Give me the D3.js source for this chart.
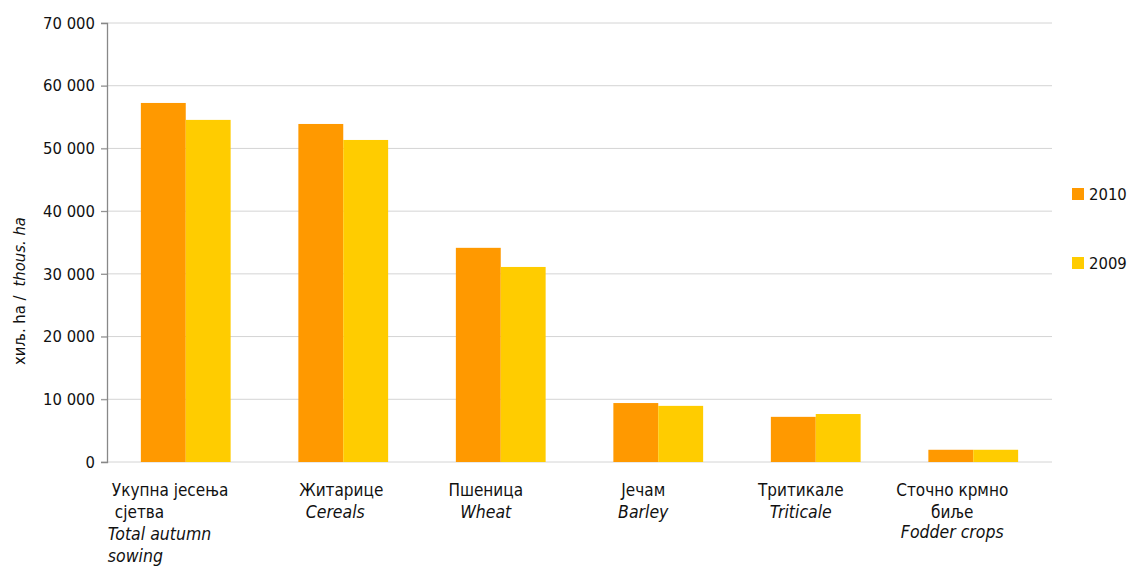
<!DOCTYPE html>
<html>
<head>
<meta charset="utf-8">
<script src="https://cdn.jsdelivr.net/npm/d3@7"></script>
<style>
  body { margin: 0; background: #fff; }
  text { font-family: "DejaVu Sans Condensed", "DejaVu Sans", sans-serif; fill: #111; }
</style>
</head>
<body>
<svg class="chart" width="1130" height="569"></svg>
<script>
const categories = ["total", "cereals", "wheat", "barley", "triticale", "fodder"];
const labelsSr = [["Укупна јесења", "сјетва"], ["Житарице"], ["Пшеница"], ["Јечам"], ["Тритикале"], ["Сточно крмно", "биље"]];
const labelsEn = [["Total autumn", "sowing"], ["Cereals"], ["Wheat"], ["Barley"], ["Triticale"], ["Fodder crops"]];
const years = ["2010", "2009"];
const values2010 = [57250, 53900, 34150, 9400, 7200, 1950];
const values2009 = [54550, 51350, 31100, 8950, 7650, 1950];
const yTicks = [0, 10000, 20000, 30000, 40000, 50000, 60000, 70000];
const colors = ["#ff9900", "#ffcc00"];

const margin = { top: 23, right: 78, bottom: 107, left: 107 };
const width = 1130 - margin.left - margin.right;
const height = 569 - margin.top - margin.bottom;

const svg = d3.select(".chart");
const chart = svg.append("g")
  .attr("transform", `translate(${margin.left}, ${margin.top})`);

const fmt = d3.formatLocale({ decimal: ",", thousands: " ", grouping: [3], currency: ["", ""] }).format(",");

// scales
const xScale = d3.scaleBand()
  .domain(categories)
  .range([0, width])
  .paddingInner(0.43)
  .paddingOuter(0.215);

const xSub = d3.scaleBand()
  .domain(years)
  .range([0, xScale.bandwidth()]);

const yScale = d3.scaleLinear().domain([0, 70000]).range([height, 0]);

// grid lines
chart.append("g")
  .selectAll("line")
  .data(yTicks)
  .enter()
  .append("line")
  .attr("x1", -6)
  .attr("x2", width)
  .attr("y1", d => yScale(d))
  .attr("y2", d => yScale(d))
  .attr("stroke", "#d4d4d4")
  .attr("stroke-width", 1);

// y axis
const yAxis = chart.append("g")
  .call(d3.axisLeft(yScale).tickValues(yTicks).tickFormat(fmt).tickSize(6).tickPadding(6));
yAxis.select(".domain").attr("stroke", "#888").attr("stroke-width", 1.3);
yAxis.selectAll(".tick line").attr("stroke", "#888");
yAxis.selectAll("text")
  .style("font-family", "'DejaVu Sans Condensed', 'DejaVu Sans', sans-serif")
  .style("font-size", "16.5px")
  .attr("fill", "#111");

// bars
const series = [values2010, values2009];
const rows = categories.map((c, i) => ({ cat: c, vals: years.map((y, j) => ({ year: y, v: series[j][i], j: j })) }));

chart.selectAll(".grp")
  .data(rows)
  .enter()
  .append("g")
  .attr("transform", d => `translate(${xScale(d.cat)}, 0)`)
  .selectAll("rect")
  .data(d => d.vals)
  .enter()
  .append("rect")
  .attr("x", d => xSub(d.year))
  .attr("y", d => yScale(d.v))
  .attr("width", xSub.bandwidth())
  .attr("height", d => height - yScale(d.v))
  .attr("fill", d => colors[d.j]);

// category labels
const lineStep = 22;
const firstBase = height + 34;
categories.forEach((c, i) => {
  const lines = labelsSr[i].map(t => ({ t, it: false })).concat(labelsEn[i].map(t => ({ t, it: true })));
  const cx = xScale(c) + xScale.bandwidth() / 2;
  const g = chart.append("g");
  lines.forEach((l, k) => {
    const txt = g.append("text")
      .attr("y", firstBase + k * lineStep - (i === 5 && l.it ? 2 : 0))
      .style("font-size", l.it ? "17.5px" : "17px")
      .style("font-style", l.it ? "italic" : "normal")
      .text(l.t);
    if (i === 0) {
      // first label wraps as a left-aligned block
      txt.attr("text-anchor", "start").attr("x", xScale(c) - 33 + (k === 0 ? 4 : k === 1 ? 7 : 0));
    } else {
      const shift = i === 1 ? (l.it ? -8 : -2) : i === 5 ? -21 : -15;
      txt.attr("text-anchor", "middle").attr("x", cx + shift);
    }
  });
});

// y axis title
const yTitle = svg.append("text")
  .attr("transform", `translate(25, ${margin.top + 268}) rotate(-90)`)
  .attr("text-anchor", "middle")
  .style("font-size", "16.5px");
yTitle.append("tspan").text("хиљ. ha  /");
yTitle.append("tspan").attr("dx", 9).style("font-style", "italic").text("thous. ha");

// legend
const legend = svg.append("g")
  .attr("transform", `translate(${margin.left + width + 20}, 188)`);
years.forEach((y, i) => {
  const item = legend.append("g").attr("transform", `translate(0, ${i * 69})`);
  item.append("rect").attr("width", 12).attr("height", 12).attr("fill", colors[i]);
  item.append("text").attr("x", 17).attr("y", 12).style("font-size", "16.5px").text(y);
});
</script>
</body>
</html>
